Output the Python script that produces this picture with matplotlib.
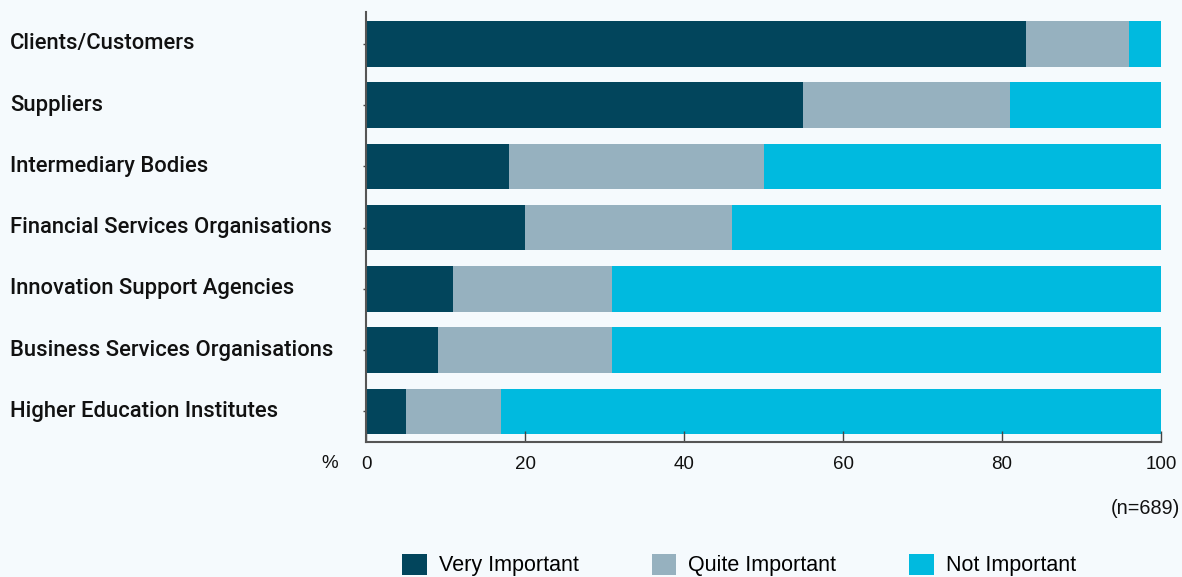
import matplotlib
matplotlib.use("Agg")
import matplotlib.pyplot as plt
import matplotlib.transforms as mtransforms
from matplotlib.patches import Patch

categories = [
    "Clients/Customers",
    "Suppliers",
    "Intermediary Bodies",
    "Financial Services Organisations",
    "Innovation Support Agencies",
    "Business Services Organisations",
    "Higher Education Institutes",
]
very_important = [83, 55, 18, 20, 11, 9, 5]
quite_important = [13, 26, 32, 26, 20, 22, 12]
not_important = [4, 19, 50, 54, 69, 69, 83]
series_names = ["Very Important", "Quite Important", "Not Important"]
sample_note = "(n=689)"

bg = "#F5FAFD"
colors = ["#02455C", "#96B1BF", "#00BADF"]
text_color = "#111111"

plt.rcParams["font.family"] = ["Liberation Sans", "DejaVu Sans"]

fig = plt.figure(figsize=(11.82, 5.77), dpi=100, facecolor=bg)
ax = fig.add_axes([366 / 1182, 1 - 442 / 577, 795 / 1182, 430 / 577])
ax.set_facecolor(bg)

ypos = list(range(len(categories)))
left = [0] * len(categories)
for vals, col in zip([very_important, quite_important, not_important], colors):
    ax.barh(ypos, vals, left=left, height=0.74, color=col, linewidth=0)
    left = [l + v for l, v in zip(left, vals)]

ax.set_xlim(0, 100)
ax.set_ylim(6.5, -0.52)
ax.set_xticks([0, 20, 40, 60, 80, 100])
ax.tick_params(axis="x", direction="in", length=8, width=1, color="#444444",
               labelsize=13.5, labelcolor=text_color, pad=10)
ax.set_yticks(ypos)
ax.set_yticklabels([])
ax.tick_params(axis="y", direction="out", length=2, width=1, color="#444444")
for side in ["top", "right"]:
    ax.spines[side].set_visible(False)
for side in ["left", "bottom"]:
    ax.spines[side].set_color("#555555")
    ax.spines[side].set_linewidth(1.5)

# category names sit flush left in the figure, one per bar row
trans = mtransforms.blended_transform_factory(fig.transFigure, ax.transData)
for y, name in zip(ypos, categories):
    ax.text(10 / 1182, y, name, transform=trans, ha="left", va="center",
            fontsize=15.8, fontfamily="Roboto", fontweight="medium",
            color=text_color)

fig.text(330 / 1182, 1 - 463 / 577, "%", ha="center", va="center",
         fontsize=13.5, color=text_color)
fig.text(1180 / 1182, 1 - 508 / 577, sample_note, ha="right", va="center",
         fontsize=14.3, color=text_color)

handles = [Patch(facecolor=c, edgecolor="none", label=n)
           for c, n in zip(colors, series_names)]
fig.legend(handles=handles, loc="center left",
           bbox_to_anchor=(402 / 1182, 1 - 565 / 577), ncol=3, frameon=False,
           fontsize=15.5, handlelength=1.15, handleheight=1.15,
           handletextpad=0.55, columnspacing=3.4, borderpad=0, borderaxespad=0)

fig.savefig("out.png", dpi=100, facecolor=bg)
